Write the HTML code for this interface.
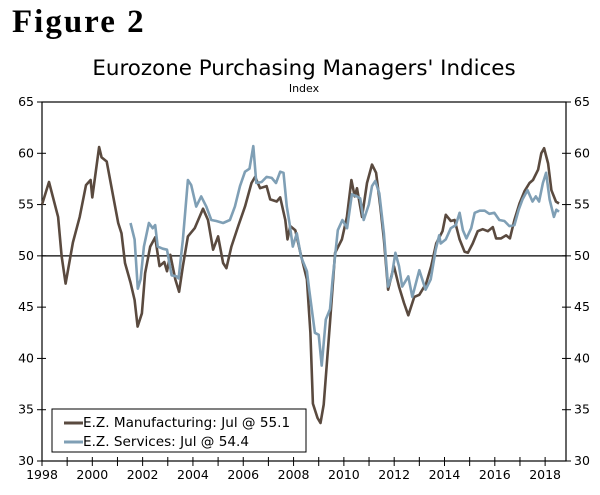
<!DOCTYPE html>
<html><head><meta charset="utf-8"><style>
body{margin:0;background:#fff;width:600px;height:495px;overflow:hidden}
svg{display:block}
text{font-family:"DejaVu Sans","Liberation Sans",sans-serif}
</style></head><body>
<svg id="chart" width="600" height="495">
<text x="12" y="32" font-size="33" font-weight="bold" letter-spacing="2" style="font-family:'Liberation Serif',serif">Figure 2</text>
<text x="304" y="75" text-anchor="middle" font-size="21.4">Eurozone Purchasing Managers' Indices</text>
<text x="304" y="92" text-anchor="middle" font-size="11">Index</text>
<g id="axes"></g>
<g id="series"></g>
<g>
<rect x="52" y="409" width="254" height="43" fill="#fff" stroke="#000" stroke-width="1"/>
<line x1="64" y1="423" x2="83" y2="423" stroke="#5a4a3f" stroke-width="3"/>
<text x="83" y="427" font-size="13.6">E.Z. Manufacturing: Jul @ 55.1</text>
<line x1="64" y1="442" x2="83" y2="442" stroke="#7f9fb5" stroke-width="3"/>
<text x="83" y="446" font-size="13.6">E.Z. Services: Jul @ 54.4</text>
</g>
</svg>
<script>
const mfgDates=[1998.0,1998.28,1998.64,1998.78,1998.94,1999.23,1999.5,1999.75,1999.93,2000.0,2000.27,2000.37,2000.57,2000.83,2001.03,2001.16,2001.3,2001.52,2001.68,2001.8,2001.97,2002.1,2002.3,2002.5,2002.67,2002.86,2002.97,2003.1,2003.3,2003.45,2003.6,2003.8,2004.07,2004.4,2004.6,2004.8,2005.0,2005.2,2005.33,2005.53,2005.8,2006.07,2006.33,2006.47,2006.67,2006.93,2007.07,2007.33,2007.47,2007.67,2007.76,2007.87,2008.07,2008.27,2008.53,2008.67,2008.77,2008.95,2009.07,2009.2,2009.45,2009.65,2009.92,2010.12,2010.3,2010.43,2010.52,2010.72,2010.92,2011.12,2011.28,2011.45,2011.59,2011.76,2011.99,2012.19,2012.39,2012.56,2012.8,2013.0,2013.27,2013.47,2013.67,2013.92,2014.05,2014.25,2014.4,2014.6,2014.8,2014.93,2015.12,2015.32,2015.52,2015.72,2015.92,2016.05,2016.25,2016.45,2016.6,2016.78,2016.98,2017.18,2017.38,2017.52,2017.72,2017.85,2017.96,2018.12,2018.25,2018.43,2018.55];
const mfgValues=[55.0,57.2,53.8,50.0,47.3,51.3,53.8,56.9,57.4,55.7,60.6,59.6,59.2,55.8,53.2,52.2,49.3,47.4,45.7,43.1,44.4,48.3,50.9,51.8,49.0,49.4,48.5,50.1,47.7,46.5,49.0,51.9,52.7,54.6,53.5,50.6,51.9,49.3,48.8,50.9,52.9,54.8,57.1,57.7,56.6,56.8,55.5,55.3,55.7,53.5,51.6,52.9,52.5,50.3,47.7,42.5,35.6,34.2,33.7,35.5,43.5,50.3,51.6,53.8,57.4,55.8,56.6,53.8,57.1,58.9,58.1,54.8,51.6,46.7,49.0,47.0,45.4,44.2,46.0,46.2,47.3,49.0,51.2,52.4,54.0,53.4,53.5,51.6,50.4,50.3,51.2,52.4,52.6,52.4,52.8,51.7,51.7,52.0,51.7,53.5,55.1,56.3,57.1,57.4,58.4,60.0,60.5,59.0,56.4,55.3,55.1];
const svcDates=[2001.52,2001.68,2001.81,2001.92,2002.05,2002.25,2002.4,2002.5,2002.6,2002.8,2002.97,2003.15,2003.35,2003.43,2003.6,2003.8,2003.93,2004.13,2004.33,2004.53,2004.73,2004.93,2005.2,2005.47,2005.67,2005.87,2006.07,2006.25,2006.4,2006.52,2006.73,2006.93,2007.13,2007.3,2007.47,2007.6,2007.73,2007.84,2007.97,2008.13,2008.3,2008.53,2008.62,2008.85,2009.0,2009.12,2009.28,2009.45,2009.55,2009.76,2009.94,2010.13,2010.32,2010.52,2010.65,2010.79,2010.99,2011.12,2011.25,2011.41,2011.59,2011.76,2011.9,2012.05,2012.19,2012.32,2012.56,2012.72,2013.0,2013.25,2013.45,2013.65,2013.79,2013.85,2014.05,2014.25,2014.45,2014.6,2014.73,2014.87,2015.06,2015.2,2015.4,2015.6,2015.78,2015.98,2016.18,2016.38,2016.58,2016.78,2016.95,2017.1,2017.3,2017.5,2017.63,2017.76,2017.91,2018.04,2018.18,2018.35,2018.45,2018.55];
const svcValues=[53.2,51.6,46.8,47.7,50.9,53.2,52.7,53.0,50.9,50.7,50.6,48.1,48.0,47.8,51.6,57.4,56.9,54.8,55.8,54.8,53.5,53.4,53.2,53.5,54.8,56.8,58.2,58.5,60.7,57.1,57.2,57.7,57.6,57.1,58.2,58.1,54.8,53.2,50.9,52.2,49.9,48.5,46.7,42.5,42.3,39.3,43.8,44.8,47.7,52.5,53.5,52.7,56.0,55.8,55.6,53.5,55.0,56.8,57.3,56.1,52.2,47.0,48.0,50.3,49.0,47.0,48.0,46.0,48.6,46.7,47.7,50.6,52.0,51.2,51.6,52.7,53.0,54.2,52.5,51.7,52.7,54.2,54.4,54.4,54.1,54.2,53.5,53.4,52.9,53.0,54.5,55.5,56.4,55.3,55.8,55.3,57.1,58.1,55.5,53.8,54.5,54.3];
const yTicks=[30,35,40,45,50,55,60,65];
const xTickLabels=[1998,2000,2002,2004,2006,2008,2010,2012,2014,2016,2018];

const X0=42,X1=566,Y0=102,Y1=461;
const xMin=1998,xMax=2018.83,yMin=30,yMax=65;
const xs=v=>X0+(v-xMin)/(xMax-xMin)*(X1-X0);
const ys=v=>Y1-(v-yMin)/(yMax-yMin)*(Y1-Y0);
const NS='http://www.w3.org/2000/svg';
const axes=document.getElementById('axes');
function mk(tag,attrs,parent){const e=document.createElementNS(NS,tag);for(const k in attrs)e.setAttribute(k,attrs[k]);parent.appendChild(e);return e;}

const frame=mk('rect',{x:X0,y:Y0,width:X1-X0,height:Y1-Y0,fill:'none',stroke:'#000','stroke-width':1.2},axes);


const ref=mk('line',{x1:X0,x2:X1,y1:ys(50),y2:ys(50),stroke:'#000','stroke-width':1.2},axes);



yTicks.forEach(t=>{
  const y=ys(t);
  mk('line',{x1:X0-5,x2:X0+4,y1:y,y2:y,stroke:'#000'},axes);
  mk('line',{x1:X1-4,x2:X1+5,y1:y,y2:y,stroke:'#000'},axes);
  const l=mk('text',{x:X0-8,y:y+4,'text-anchor':'end','font-size':12.5},axes);
  l.textContent=t;
  
  
  const r=mk('text',{x:X1+8,y:y+4,'font-size':12.5},axes);
  r.textContent=t;
  
  
});
for(let yr=1998;yr<=2018;yr++){
  const x=xs(yr);
  mk('line',{x1:x,x2:x,y1:Y1-4,y2:Y1+5,stroke:'#000'},axes);
}
xTickLabels.forEach(t=>{
  const l=mk('text',{x:xs(t),y:Y1+18,'text-anchor':'middle','font-size':12.5},axes);
  l.textContent=t;
  
  
});

const sg=document.getElementById('series');
function line(dates,vals,color,name){
  const d=dates.map((t,i)=>(i?'L':'M')+xs(t).toFixed(1)+','+ys(vals[i]).toFixed(1)).join('');
  const p=mk('path',{d:d,fill:'none',stroke:color,'stroke-width':2.6,'stroke-linejoin':'round'},sg);
  
  
}
line(mfgDates,mfgValues,'#5a4a3f','manufacturing-line');
line(svcDates,svcValues,'#7f9fb5','services-line');
</script>
</body></html>
